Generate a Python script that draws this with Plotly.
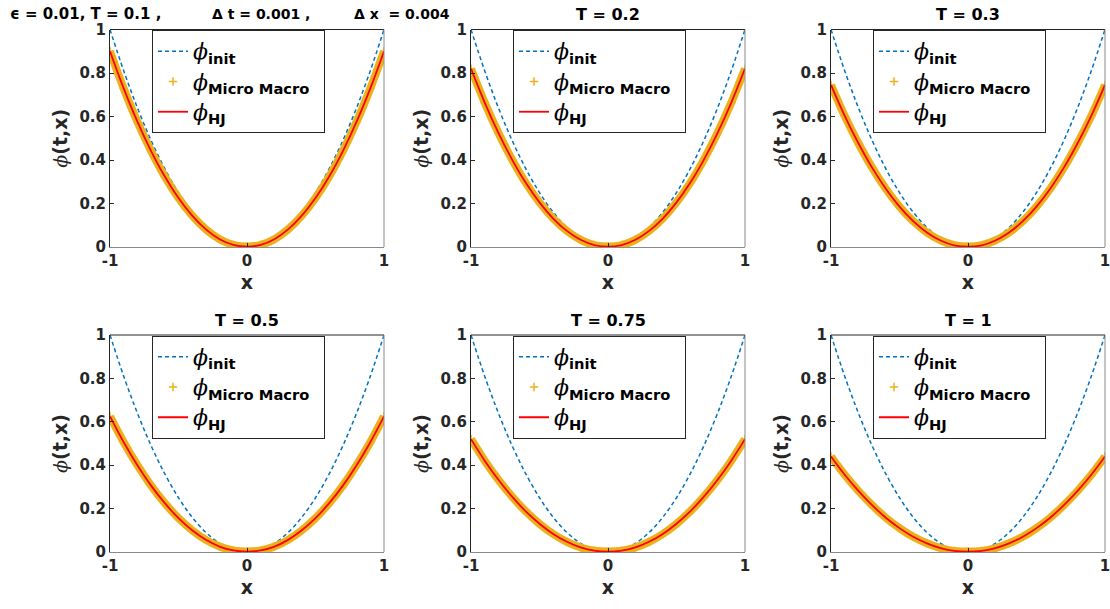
import plotly.graph_objects as go

# grid on [-1, 1]
x = [-1.0, -0.9, -0.8, -0.7, -0.6, -0.5, -0.4, -0.3, -0.2, -0.1, 0.0,
     0.1, 0.2, 0.3, 0.4, 0.5, 0.6, 0.7, 0.8, 0.9, 1.0]

# initial datum
phi_init = [1.000, 0.810, 0.640, 0.490, 0.360, 0.250, 0.160, 0.090, 0.040, 0.010, 0.000,
            0.010, 0.040, 0.090, 0.160, 0.250, 0.360, 0.490, 0.640, 0.810, 1.000]

# Hamilton-Jacobi limit at each final time
phi_hj_01 = [0.900, 0.729, 0.576, 0.441, 0.324, 0.225, 0.144, 0.081, 0.036, 0.010, 0.002,
             0.010, 0.036, 0.081, 0.144, 0.225, 0.324, 0.441, 0.576, 0.729, 0.900]
phi_hj_02 = [0.820, 0.664, 0.525, 0.402, 0.295, 0.205, 0.131, 0.074, 0.033, 0.009, 0.002,
             0.009, 0.033, 0.074, 0.131, 0.205, 0.295, 0.402, 0.525, 0.664, 0.820]
phi_hj_03 = [0.745, 0.603, 0.477, 0.365, 0.268, 0.186, 0.119, 0.067, 0.030, 0.008, 0.002,
             0.008, 0.030, 0.067, 0.119, 0.186, 0.268, 0.365, 0.477, 0.603, 0.745]
phi_hj_05 = [0.625, 0.506, 0.400, 0.306, 0.225, 0.156, 0.100, 0.056, 0.025, 0.007, 0.002,
             0.007, 0.025, 0.056, 0.100, 0.156, 0.225, 0.306, 0.400, 0.506, 0.625]
phi_hj_075 = [0.520, 0.421, 0.333, 0.255, 0.187, 0.130, 0.083, 0.047, 0.021, 0.006, 0.002,
              0.006, 0.021, 0.047, 0.083, 0.130, 0.187, 0.255, 0.333, 0.421, 0.520]
phi_hj_1 = [0.440, 0.356, 0.282, 0.216, 0.158, 0.110, 0.070, 0.040, 0.018, 0.005, 0.002,
            0.005, 0.018, 0.040, 0.070, 0.110, 0.158, 0.216, 0.282, 0.356, 0.440]

# micro-macro scheme output (coincides with the HJ limit at this resolution)
phi_mm_01 = list(phi_hj_01)
phi_mm_02 = list(phi_hj_02)
phi_mm_03 = list(phi_hj_03)
phi_mm_05 = list(phi_hj_05)
phi_mm_075 = list(phi_hj_075)
phi_mm_1 = list(phi_hj_1)

# first panel carries the run parameters, split in three pieces
title_parts = ["\u03f5 = 0.01, T = 0.1 ,", "\u0394 t = 0.001 ,", "\u0394 x  = 0.004"]
title_part_px = [8, 210, 352]
title_part_size = [15, 14, 14]
titles = [None, "T = 0.2", "T = 0.3", "T = 0.5", "T = 0.75", "T = 1"]
hj = [phi_hj_01, phi_hj_02, phi_hj_03, phi_hj_05, phi_hj_075, phi_hj_1]
mm = [phi_mm_01, phi_mm_02, phi_mm_03, phi_mm_05, phi_mm_075, phi_mm_1]

W, H = 1110, 609
col_px = [(110, 384), (471, 745), (831, 1105)]
row_px = [(29.5, 247), (335, 552)]

BLUE = "#0072BD"
ORANGE = "#EDB120"
RED = "#FF0000"
DARK = "#262626"
GRAY = "#8a8a8a"
SANS = "DejaVu Sans, sans-serif"


def phi_label(sub, pad=""):
    return ('<span style="font-family:DejaVu Serif;font-size:22px"><i>\u03d5</i></span>'
            '<sub><b>%s</b>%s</sub>' % (sub, pad))


fig = go.Figure()
annotations = []
shapes = []

for k in range(6):
    r, c = divmod(k, 3)
    n = k + 1
    xa = "x" if n == 1 else "x%d" % n
    ya = "y" if n == 1 else "y%d" % n
    lg = "legend" if n == 1 else "legend%d" % n
    x0, x1 = col_px[c]
    y0, y1 = row_px[r]

    fig.add_trace(go.Scatter(
        x=x, y=phi_init, mode="lines",
        line=dict(color=BLUE, width=1.5, dash="4px,3px", shape="spline"),
        name=phi_label("init"), xaxis=xa, yaxis=ya, legend=lg, legendrank=1,
        legendgroup="a%d" % n))
    fig.add_trace(go.Scatter(
        x=x, y=mm[k], mode="lines", line=dict(color=ORANGE, width=8, shape="spline"),
        showlegend=False, xaxis=xa, yaxis=ya, hoverinfo="skip"))
    fig.add_trace(go.Scatter(
        x=x, y=mm[k], mode="markers",
        marker=dict(symbol="cross-thin", size=6, line=dict(color=ORANGE, width=1.5)),
        name=phi_label("Micro Macro", "&nbsp;&nbsp;"), xaxis=xa, yaxis=ya,
        legend=lg, legendrank=2, legendgroup="b%d" % n))
    fig.add_trace(go.Scatter(
        x=x, y=hj[k], mode="lines", line=dict(color=RED, width=1.8, shape="spline"),
        name=phi_label("HJ"), xaxis=xa, yaxis=ya, legend=lg, legendrank=3,
        legendgroup="c%d" % n))

    dom_x = [x0 / W, x1 / W]
    dom_y = [1 - y1 / H, 1 - y0 / H]
    fig.layout[("xaxis" if n == 1 else "xaxis%d" % n)] = dict(
        domain=dom_x, range=[-1, 1], tickvals=[-1, 0, 1], ticktext=["-1", "0", "1"],
        ticks="inside", ticklen=4, tickcolor=DARK, showline=True, linecolor=GRAY, linewidth=1,
        showgrid=False, zeroline=False, anchor=ya, automargin=False,
        ticklabeloverflow="allow",
        tickfont=dict(family=SANS, size=15, color=DARK, weight="bold"),
        title=dict(text="<b>x</b>", font=dict(family=SANS, size=19, color=DARK), standoff=6))
    fig.layout[("yaxis" if n == 1 else "yaxis%d" % n)] = dict(
        domain=dom_y, range=[0, 1], tickvals=[0, 0.2, 0.4, 0.6, 0.8, 1],
        ticktext=["0", "0.2", "0.4", "0.6", "0.8", "1"],
        ticks="inside", ticklen=4, tickcolor=DARK, showline=True, linecolor=DARK, linewidth=1,
        showgrid=False, zeroline=False, anchor=xa, automargin=False,
        ticklabeloverflow="allow",
        tickfont=dict(family=SANS, size=15, color=DARK, weight="bold"),
        title=dict(text='<span style="font-family:DejaVu Serif"><i>\u03d5</i></span><b>(t,x)</b>',
                   font=dict(family=SANS, size=19, color=DARK), standoff=6))

    # box: dark top edge, gray right edge
    shapes.append(dict(type="line", xref="%s domain" % xa, yref="%s domain" % ya,
                       x0=0, x1=1, y0=1, y1=1, line=dict(color=DARK, width=1)))
    shapes.append(dict(type="line", xref="%s domain" % xa, yref="%s domain" % ya,
                       x0=1, x1=1, y0=0, y1=1, line=dict(color=GRAY, width=1)))

    # legend placed inside, upper centre
    fig.layout[lg] = dict(
        x=(x0 + 42) / W, y=1 - (y0 + 0.5) / H, xanchor="left", yanchor="top",
        xref="paper", yref="paper",
        bgcolor="white", bordercolor=DARK, borderwidth=1,
        font=dict(family=SANS, size=21, color="black"),
        itemwidth=30, tracegroupgap=0)

    # panel title
    if k == 0:
        for part, px, fs in zip(title_parts, title_part_px, title_part_size):
            annotations.append(dict(text="<b>%s</b>" % part, xref="paper", yref="paper",
                                    x=px / W, y=1 - 14 / H, xanchor="left", yanchor="middle",
                                    showarrow=False,
                                    font=dict(family=SANS, size=fs, color="black")))
    else:
        annotations.append(dict(text="<b>%s</b>" % titles[k], xref="paper", yref="paper",
                                x=(x0 + x1) / 2 / W, y=1 - (y0 - 15) / H, xanchor="center",
                                yanchor="middle", showarrow=False,
                                font=dict(family=SANS, size=16, color="black")))

fig.update_layout(template="none", width=W, height=H,
                  margin=dict(l=0, r=0, t=0, b=0, autoexpand=False),
                  paper_bgcolor="white", plot_bgcolor="white",
                  annotations=annotations, shapes=shapes)

fig.write_html("out.html")
